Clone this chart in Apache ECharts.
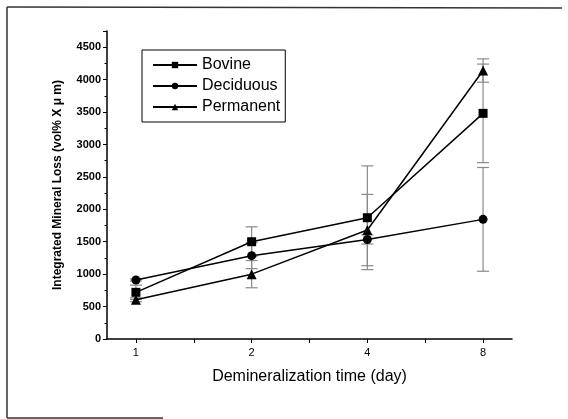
<!DOCTYPE html>
<html>
<head>
<meta charset="utf-8">
<script src="https://cdn.jsdelivr.net/npm/echarts@6/dist/echarts.min.js"></script>
<style>
  html, body { margin: 0; padding: 0; background: #fff; }
  #main { width: 568px; height: 419px; }
</style>
</head>
<body>
<div id="main"></div>
<script>
// demineralization days, drawn evenly spaced at positions 1..4
var days = ['1', '2', '4', '8'];
var dayPos = [1, 2, 3, 4];

var bovine = [720, 1500, 1870, 3480];
var bovineErr = [110, 230, 800, 760];
var deciduous = [910, 1285, 1535, 1845];
var deciduousErr = [15, 200, 70, 800];
var permanent = [605, 1000, 1680, 4140];
var permanentErr = [30, 210, 550, 180];

var yTicks = [0, 500, 1000, 1500, 2000, 2500, 3000, 3500, 4000, 4500];

function pts(vals) {
    return vals.map(function (v, i) { return [dayPos[i], v]; });
}
function errs(vals, e) {
    return vals.map(function (v, i) { return [dayPos[i], v - e[i], v + e[i]]; });
}

function errorBar(params, api) {
    var x = api.value(0);
    var top = api.coord([x, api.value(2)]);
    var bot = api.coord([x, api.value(1)]);
    var hw = 6;
    var st = { stroke: '#8a8a8a', lineWidth: 1.2 };
    return {
        type: 'group',
        children: [
            { type: 'line', shape: { x1: top[0], y1: top[1], x2: bot[0], y2: bot[1] }, style: st },
            { type: 'line', shape: { x1: top[0] - hw, y1: top[1], x2: top[0] + hw, y2: top[1] }, style: st },
            { type: 'line', shape: { x1: bot[0] - hw, y1: bot[1], x2: bot[0] + hw, y2: bot[1] }, style: st }
        ]
    };
}

var dom = document.getElementById('main');
var myChart = echarts.init(dom);
var font = 'Liberation Sans, Arial, sans-serif';

var lineStyle = { color: '#000', width: 1.5 };

var option = {
    backgroundColor: '#fff',
    animation: false,
    textStyle: { fontFamily: font },
    grid: {
        left: 107,
        right: 56,
        top: 31,
        bottom: 80
    },
    legend: {
        orient: 'vertical',
        left: 142,
        top: 50,
        padding: [7, 5, 7, 10],
        itemGap: 5,
        itemWidth: 44,
        itemHeight: 8,
        borderColor: '#000',
        borderWidth: 1,
        textStyle: { fontSize: 16, color: '#000', fontFamily: font },
        data: ['Bovine', 'Deciduous', 'Permanent']
    },
    xAxis: {
        type: 'value',
        min: 0.75,
        max: 4.25,
        splitNumber: 7,
        name: 'Demineralization time (day)',
        nameLocation: 'middle',
        nameGap: 30,
        nameTextStyle: { fontSize: 16, color: '#000', fontFamily: font },
        splitLine: { show: false },
        axisLine: { lineStyle: { color: '#000', width: 1.5 } },
        axisTick: { length: 4, lineStyle: { color: '#000' } },
        axisLabel: {
            color: '#000',
            fontSize: 11,
            margin: 8,
            showMinLabel: false,
            showMaxLabel: false,
            formatter: function (v) {
                var i = dayPos.indexOf(v);
                return i >= 0 ? days[i] : '';
            }
        }
    },
    yAxis: {
        type: 'value',
        min: 0,
        max: 4750,
        interval: 500,
        name: 'Integrated Mineral Loss (vol% X \u03bc m)',
        nameLocation: 'middle',
        nameGap: 43,
        nameTextStyle: { fontSize: 12, color: '#000', fontFamily: font, fontWeight: 'bold' },
        splitLine: { show: false },
        axisLine: { lineStyle: { color: '#000', width: 1.5 } },
        axisTick: { length: 4, lineStyle: { color: '#000' } },
        minorTick: { show: true, splitNumber: 2, length: 2.5, lineStyle: { color: '#000' } },
        axisLabel: {
            color: '#000',
            fontSize: 11,
            fontWeight: 'bold',
            margin: 6,
            showMaxLabel: false,
            formatter: function (v) {
                return yTicks.indexOf(v) >= 0 ? String(v) : '';
            }
        }
    },
    graphic: [
        { type: 'line', shape: { x1: 7, y1: 7, x2: 7, y2: 418 }, style: { stroke: '#333', lineWidth: 1.5 } },
        { type: 'line', shape: { x1: 7, y1: 7, x2: 562, y2: 8 }, style: { stroke: '#333', lineWidth: 1.5 } },
        { type: 'line', shape: { x1: 7, y1: 418, x2: 163, y2: 418 }, style: { stroke: '#333', lineWidth: 1.5 } }
    ],
    series: [
        { name: 'errB', type: 'custom', renderItem: errorBar, data: errs(bovine, bovineErr), z: 1, silent: true },
        { name: 'errD', type: 'custom', renderItem: errorBar, data: errs(deciduous, deciduousErr), z: 1, silent: true },
        { name: 'errP', type: 'custom', renderItem: errorBar, data: errs(permanent, permanentErr), z: 1, silent: true },
        {
            name: 'Bovine',
            type: 'line',
            symbol: 'rect',
            symbolSize: 9,
            itemStyle: { color: '#000' },
            lineStyle: lineStyle,
            data: pts(bovine),
            z: 3
        },
        {
            name: 'Deciduous',
            type: 'line',
            symbol: 'circle',
            symbolSize: 9,
            itemStyle: { color: '#000' },
            lineStyle: lineStyle,
            data: pts(deciduous),
            z: 3
        },
        {
            name: 'Permanent',
            type: 'line',
            symbol: 'triangle',
            symbolSize: 10,
            itemStyle: { color: '#000' },
            lineStyle: lineStyle,
            data: pts(permanent),
            z: 3
        }
    ]
};

myChart.setOption(option);
</script>
</body>
</html>
